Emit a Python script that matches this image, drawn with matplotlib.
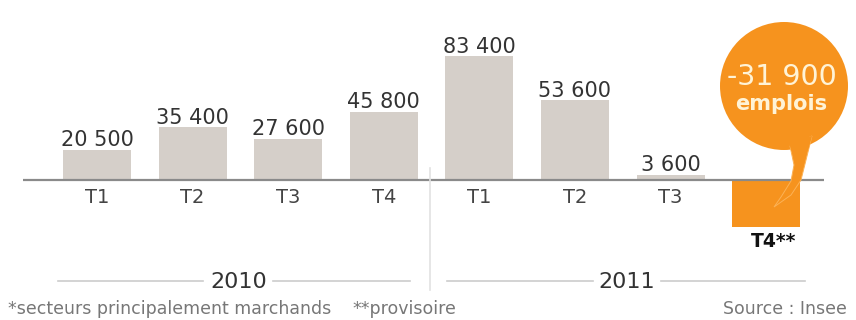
import matplotlib
matplotlib.use("Agg")
import matplotlib.pyplot as plt
from matplotlib.patches import Ellipse, Polygon

# ---- data ----
quarters = ["T1", "T2", "T3", "T4", "T1", "T2", "T3", "T4**"]
years = ["2010", "2011"]
values = [20500, 35400, 27600, 45800, 83400, 53600, 3600, -31900]
value_labels = ["20 500", "35 400", "27 600", "45 800", "83 400", "53 600", "3 600", ""]
bubble_value = "-31 900"
bubble_unit = "emplois"
footnote_left = "*secteurs principalement marchands"
footnote_mid = "**provisoire"
source = "Source : Insee"

W, H = 856, 320
GREY_BAR = "#d5cfc9"
ORANGE = "#f6931e"
TEXT = "#333333"

fig = plt.figure(figsize=(W / 100, H / 100), dpi=100)
ax = fig.add_axes([0, 0, 1, 1])
ax.axis("off")

# map: category index -> pixel; value -> pixel
step = 95.6
x0 = 97.0
ppu = 0.001487  # px per unit
base_y = 180.0
ax.set_xlim(-x0 / step, (W - x0) / step)
ax.set_ylim(-(H - base_y) / ppu, base_y / ppu)


def P(x, y):
    return (x / W, 1 - y / H)


idx = list(range(len(values)))
colors = [GREY_BAR] * 7 + [ORANGE]
ax.bar(idx, values, width=0.71, color=colors, zorder=2)

# baseline
ax.hlines(0, (23 - x0) / step, (824 - x0) / step, color="#8a8a8a", lw=1.6, zorder=3)

# value labels
for i, (v, lab) in enumerate(zip(values, value_labels)):
    if lab:
        ax.annotate(lab, (i, v), xytext=(0, 2.5), textcoords="offset points",
                    ha="center", va="baseline", fontsize=15, color=TEXT,
                    family="DejaVu Sans", zorder=4)

# quarter labels
for i, q in enumerate(quarters):
    if q.startswith("T4*"):
        fig.text(*P(774, 247), q, ha="center", va="baseline", fontsize=13.5,
                 fontweight="bold", color="#111111")
    else:
        fig.text(*P(x0 + step * i, 203), q, ha="center", va="baseline",
                 fontsize=14, color="#444444")

# vertical separator
fig.add_artist(plt.Line2D([430 / W, 430 / W], [1 - 168 / H, 1 - 290 / H],
                          color="#e2e2e2", lw=1.2))

# year lines
for (xa, xb, g0, g1, xc, yr) in [(58, 410, 203, 273, 239, years[0]),
                                  (447, 805, 593, 661, 627, years[1])]:
    for a, b in [(xa, g0), (g1, xb)]:
        fig.add_artist(plt.Line2D([a / W, b / W], [1 - 280.5 / H] * 2,
                                  color="#cccccc", lw=1.2))
    fig.text(*P(xc, 288), yr, ha="center", va="baseline", fontsize=16,
             color="#333333")

# footnotes
fig.text(*P(8, 314), footnote_left, ha="left", va="baseline", fontsize=12.5,
         color="#777777")
fig.text(*P(352, 314), footnote_mid, ha="left", va="baseline", fontsize=12.5,
         color="#777777")
fig.text(*P(847, 314), source, ha="right", va="baseline", fontsize=12.5,
         color="#777777")

# bubble
cx, cy, r = 784, 86, 64
circ = Ellipse(P(cx, cy), width=2 * r / W, height=2 * r / H,
               transform=fig.transFigure, facecolor=ORANGE, edgecolor="none",
               zorder=5)
fig.add_artist(circ)
tail_px = [(812, 136), (806, 160), (801, 180), (791, 195), (774, 207),
           (781, 197), (791, 181), (794, 165), (790, 146)]
tail = Polygon([P(x, y) for x, y in tail_px], closed=True,
               transform=fig.transFigure, facecolor=ORANGE,
               edgecolor="#fcb256", lw=0.7, zorder=5)
fig.add_artist(tail)
tail_fill = Polygon([P(x, y) for x, y in [(812, 136), (808, 150), (792, 152), (788, 140)]],
                    closed=True, transform=fig.transFigure, facecolor=ORANGE,
                    edgecolor="none", zorder=5.5)
fig.add_artist(tail_fill)
fig.text(*P(782, 85), bubble_value, ha="center", va="baseline", fontsize=20.5,
         color="#fff3d6", zorder=6)
fig.text(*P(781, 110), bubble_unit, ha="center", va="baseline", fontsize=15,
         fontweight="bold", color="#fff3d6", zorder=6)

fig.savefig("out.png", dpi=100)
